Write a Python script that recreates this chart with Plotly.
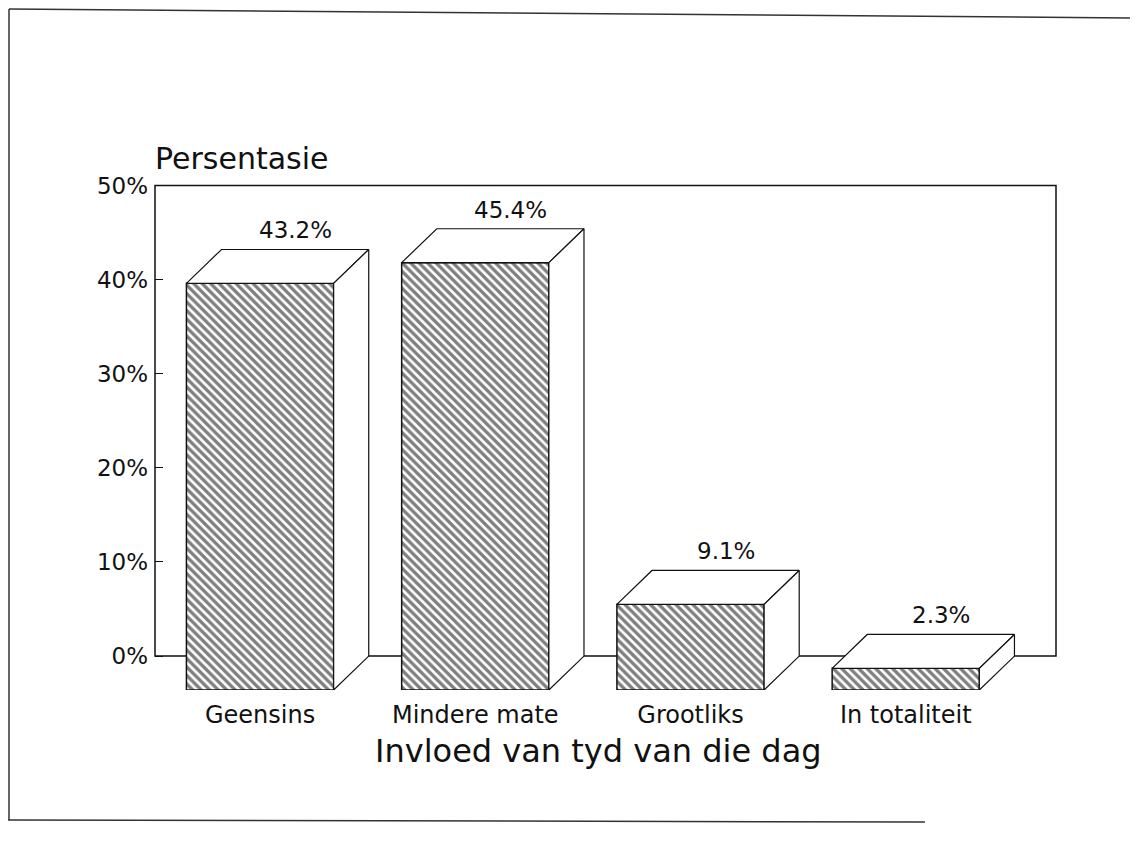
import plotly.graph_objects as go

# ---- data ----
categories = ["Geensins", "Mindere mate", "Grootliks", "In totaliteit"]
values = [43.2, 45.4, 9.1, 2.3]
value_labels = ["43.2%", "45.4%", "9.1%", "2.3%"]
tick_values = [0, 10, 20, 30, 40, 50]
tick_labels = ["0%", "10%", "20%", "30%", "40%", "50%"]
y_title = "Persentasie"
x_title = "Invloed van tyd van die dag"

# ---- geometry / style ----
W, H = 1138, 846
OFF = 8                      # page body margin compensation
FW, FH = W - 2 * OFF, H - 2 * OFF   # figure size that fits without scrollbars
PL, PR, PT, PB = 155, 1056, 177, 690   # target plot-area pixel box (page coords)
ML, MT = PL - OFF, PT - OFF
MR = FW - (PR - OFF)
MB = FH - (PB - OFF)
BAR_W = 0.684          # bar width in category units
DX = 0.163             # 3D depth in x (category units)
DY = 3.6               # 3D depth in y (percentage units)
Y_TOP = 54.5           # front axis range top
X_RANGE = [-0.488, 3.698]
FONT = "DejaVu Sans"
INK = "#111111"

positions = list(range(len(categories)))

fig = go.Figure()

# front faces (hatched)
fig.add_trace(go.Bar(
    x=positions, y=values, width=BAR_W,
    marker=dict(color="white",
                line=dict(color=INK, width=1.5),
                pattern=dict(shape="\\", fgcolor="#000000", bgcolor="white",
                             size=6, solidity=0.55)),
    hoverinfo="skip", showlegend=False,
))

# top and side faces (white, outlined)
h = BAR_W / 2
for i, v in zip(positions, values):
    top_x = [i - h, i + h, i + h + DX, i - h + DX, i - h]
    top_y = [v, v, v + DY, v + DY, v]
    side_x = [i + h, i + h, i + h + DX, i + h + DX, i + h]
    side_y = [0, v, v + DY, DY, 0]
    for xs, ys in ((top_x, top_y), (side_x, side_y)):
        fig.add_trace(go.Scatter(
            x=xs, y=ys, mode="lines", fill="toself", fillcolor="white",
            line=dict(color=INK, width=1.2), hoverinfo="skip", showlegend=False,
        ))

# value labels above the bars (at back-face centre)
for i, v, lab in zip(positions, values, value_labels):
    fig.add_annotation(x=i + DX, y=v + DY, text=lab, showarrow=False,
                       xref="x", yref="y", yanchor="bottom", yshift=4,
                       font=dict(family=FONT, size=23, color=INK))

# back wall frame (in back-plane units on y2)
fig.add_shape(type="rect", xref="x domain", yref="y2",
              x0=0, x1=1, y0=0, y1=tick_values[-1],
              line=dict(color=INK, width=1.5), fillcolor="rgba(0,0,0,0)",
              layer="below")

# helpers: page pixel -> paper coords
def px(xp):
    return (xp - PL) / (PR - PL)

def py(yp):
    return (PB - yp) / (PB - PT)

# axis titles
fig.add_annotation(text=y_title, xref="paper", yref="paper",
                   x=px(153), y=py(158),
                   xanchor="left", yanchor="middle", showarrow=False,
                   font=dict(family=FONT, size=30, color=INK))
fig.add_annotation(text=x_title, xref="paper", yref="paper",
                   x=px(598), y=py(751),
                   xanchor="center", yanchor="middle", showarrow=False,
                   font=dict(family=FONT, size=32, color=INK))

# scanned page border
border = [((9, 9), (9, 820)), ((9, 9), (1130, 18)), ((8, 820), (925, 822))]
for (x0, y0), (x1, y1) in border:
    fig.add_shape(type="line", xref="paper", yref="paper",
                  x0=px(x0), y0=py(y0), x1=px(x1), y1=py(y1),
                  line=dict(color="#333333", width=1.5))

fig.update_layout(
    width=FW, height=FH,
    margin=dict(l=ML, r=MR, t=MT, b=MB, pad=0),
    paper_bgcolor="white", plot_bgcolor="white",
    showlegend=False,
    font=dict(family=FONT, color=INK),
    xaxis=dict(range=X_RANGE, tickvals=positions, ticktext=categories,
               showgrid=False, zeroline=False, showline=False, ticks="",
               ticklabelstandoff=8,
               tickfont=dict(family=FONT, size=24, color=INK)),
    yaxis=dict(range=[0, Y_TOP], showgrid=False, zeroline=False,
               showline=False, showticklabels=False, ticks=""),
    yaxis2=dict(range=[-DY, Y_TOP - DY], overlaying="y", side="left",
                anchor="x", tickvals=tick_values, ticktext=tick_labels,
                ticks="inside", ticklen=8, tickcolor=INK, tickwidth=1,
                ticklabelstandoff=6,
                showgrid=False, zeroline=False, showline=False,
                tickfont=dict(family=FONT, size=23, color=INK)),
)

# dummy trace to activate y2
fig.add_trace(go.Scatter(x=[None], y=[None], yaxis="y2", showlegend=False,
                         hoverinfo="skip"))

fig.write_html("out.html")
